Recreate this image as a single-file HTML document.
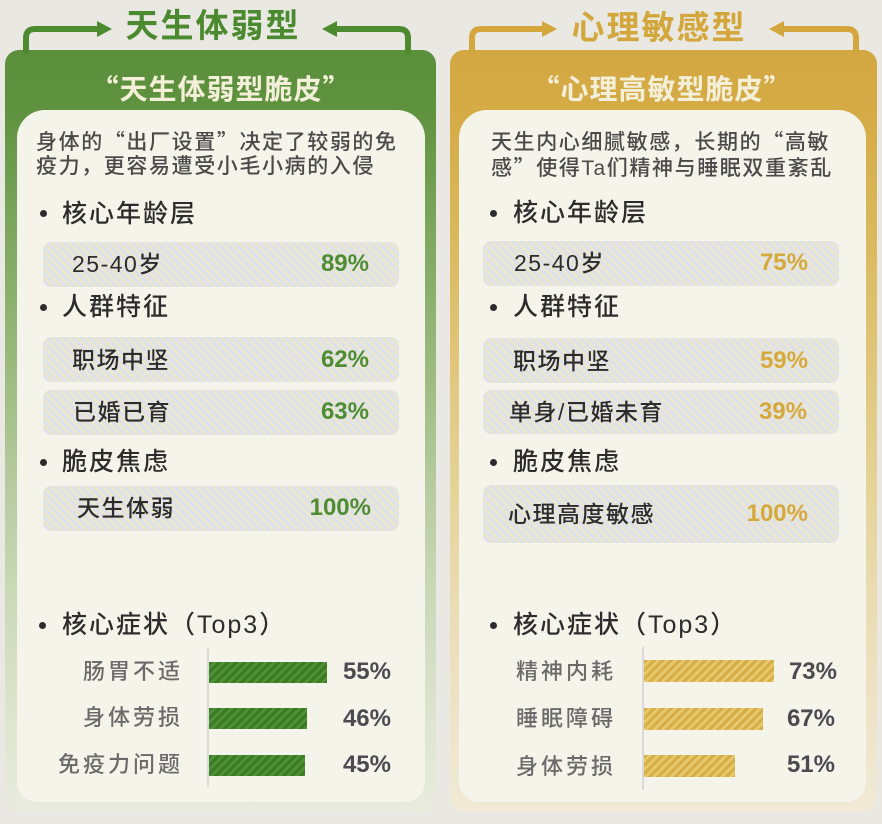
<!DOCTYPE html>
<html><head><meta charset="utf-8">
<style>
*{margin:0;padding:0;box-sizing:border-box}
html,body{width:882px;height:824px;overflow:hidden}
body{background:#e9e8e3;font-family:"Liberation Sans","Noto Sans CJK SC",sans-serif;position:relative}
.a{position:absolute;white-space:nowrap}
.q{font-family:"Noto Sans CJK SC",sans-serif;font-feature-settings:"fwid" 1}
.outer{position:absolute;top:50px;height:762px;border-radius:14px}
.og{left:5px;width:431px;background:linear-gradient(to bottom,#5b8f3c 0%,#5f923f 8%,#7aa55c 22%,#8db06f 33%,#a3bf87 46%,#b9cda3 59%,#cbd9b8 72%,#e0e6d2 90%,#e9ebdf 100%)}
.oy{left:450px;width:427px;background:linear-gradient(to bottom,#d3a842 0%,#d5ab46 8%,#d9b758 22%,#ddc06c 33%,#e1ca84 46%,#e6d49c 59%,#eadcb2 72%,#eee6cb 90%,#f0ead6 100%)}
.inner{position:absolute;top:110px;height:692px;background:#f5f4eb;border-radius:28px 28px 20px 20px}
.title{font-size:33px;font-weight:700;letter-spacing:2px;height:40px;line-height:40px;text-align:center;width:300px}
.sub{font-size:28px;font-weight:700;color:#f3efd8;letter-spacing:1px;height:36px;line-height:36px;text-align:center;width:360px}
.desc{font-size:21px;letter-spacing:1.6px;color:#4a4a4a;height:26px;line-height:26px;font-weight:500}
.h{font-size:25px;letter-spacing:2px;color:#2c2c2c;font-weight:500;height:34px;line-height:34px}
.dot{position:absolute;width:7px;height:7px;border-radius:50%;background:#2c2c2c}
.row{position:absolute;width:356px;height:45px;border-radius:8px;background:repeating-linear-gradient(45deg,#ebe6cf 0px,#ebe6cf 3px,#dce1ed 3px,#dce1ed 6px)}
.rt{font-size:23px;letter-spacing:1.5px;color:#2c2c2c;height:34px;line-height:34px;font-weight:500}
.pct{font-size:24px;font-weight:700;height:34px;line-height:34px;text-align:right;width:100px}
.g{color:#4e8d33}.y{color:#d5a93c}
.axis{position:absolute;width:2px;background:#dadad6}
.barg{position:absolute;height:21px;background:repeating-linear-gradient(135deg,#3d7a26 0px,#3d7a26 3px,#4f9135 3px,#4f9135 6px)}
.bary{position:absolute;height:22px;background:repeating-linear-gradient(135deg,#d6ad46 0px,#d6ad46 3px,#e7c86c 3px,#e7c86c 6px)}
.bl{font-size:22px;letter-spacing:3px;color:#6a6a6a;height:30px;line-height:30px;font-weight:500}
.bp{font-size:24px;font-weight:700;color:#4a4a50;height:30px;line-height:30px;text-align:right;width:100px}
</style></head>
<body>
<div class="outer og"></div>
<div class="outer oy"></div>
<div class="inner" style="left:17px;width:408px"></div>
<div class="inner" style="left:459px;width:407px"></div>

<svg class="a" style="left:0;top:0" width="882" height="60" viewBox="0 0 882 60">
<g fill="none" stroke-width="6" stroke-linejoin="round">
<path d="M26 54 V38 Q26 29 35 29 H100" stroke="#4e8b30"/>
<path d="M408 54 V38 Q408 29 399 29 H334" stroke="#4e8b30"/>
<path d="M472 54 V38 Q472 29 481 29 H545" stroke="#d3a73c"/>
<path d="M856 54 V38 Q856 29 847 29 H782" stroke="#d3a73c"/>
</g>
<polygon points="97,21 112,29 97,37" fill="#4e8b30"/>
<polygon points="337,21 322,29 337,37" fill="#4e8b30"/>
<polygon points="542,21 557,29 542,37" fill="#d3a73c"/>
<polygon points="784,21 769,29 784,37" fill="#d3a73c"/>
</svg>

<div class="a title" style="left:63px;top:6px;color:#4b8a2e">天生体弱型</div>
<div class="a title" style="left:509px;top:8px;color:#d3a73c">心理敏感型</div>

<div class="a sub" style="left:41px;top:70px"><span class="q">“</span>天生体弱型脆皮<span class="q">”</span></div>
<div class="a sub" style="left:482px;top:70px"><span class="q">“</span>心理高敏型脆皮<span class="q">”</span></div>

<div class="a desc" style="left:36px;top:128px">身体的<span class="q">“</span>出厂设置<span class="q">”</span>决定了较弱的免</div>
<div class="a desc" style="left:36px;top:154px">疫力，更容易遭受小毛小病的入侵</div>
<div class="a desc" style="left:491px;top:128px">天生内心细腻敏感，长期的<span class="q">“</span>高敏</div>
<div class="a desc" style="left:491px;top:154px">感<span class="q">”</span>使得Ta们精神与睡眠双重紊乱</div>

<!-- left headings -->
<div class="dot" style="left:40px;top:210px"></div><div class="a h" style="left:62px;top:197px">核心年龄层</div>
<div class="dot" style="left:40px;top:304px"></div><div class="a h" style="left:62px;top:290px">人群特征</div>
<div class="dot" style="left:40px;top:459px"></div><div class="a h" style="left:62px;top:445px">脆皮焦虑</div>
<div class="dot" style="left:39px;top:622px"></div><div class="a h" style="left:62px;top:608px">核心症状（Top3）</div>

<!-- right headings -->
<div class="dot" style="left:490px;top:210px"></div><div class="a h" style="left:513px;top:196px">核心年龄层</div>
<div class="dot" style="left:490px;top:304px"></div><div class="a h" style="left:513px;top:290px">人群特征</div>
<div class="dot" style="left:490px;top:459px"></div><div class="a h" style="left:513px;top:445px">脆皮焦虑</div>
<div class="dot" style="left:490px;top:622px"></div><div class="a h" style="left:513px;top:608px">核心症状（Top3）</div>

<!-- left rows -->
<div class="row" style="left:43px;top:242px"></div>
<div class="a rt" style="left:72px;top:247px">25-40岁</div><div class="a pct g" style="left:269px;top:247px">89%</div>
<div class="row" style="left:43px;top:337px"></div>
<div class="a rt" style="left:72px;top:343px">职场中坚</div><div class="a pct g" style="left:269px;top:343px">62%</div>
<div class="row" style="left:43px;top:390px"></div>
<div class="a rt" style="left:73px;top:395px">已婚已育</div><div class="a pct g" style="left:269px;top:395px">63%</div>
<div class="row" style="left:43px;top:486px"></div>
<div class="a rt" style="left:77px;top:491px">天生体弱</div><div class="a pct g" style="left:271px;top:491px">100%</div>

<!-- right rows -->
<div class="row" style="left:483px;top:241px"></div>
<div class="a rt" style="left:514px;top:246px">25-40岁</div><div class="a pct y" style="left:708px;top:246px">75%</div>
<div class="row" style="left:483px;top:338px"></div>
<div class="a rt" style="left:513px;top:344px">职场中坚</div><div class="a pct y" style="left:708px;top:344px">59%</div>
<div class="row" style="left:483px;top:390px;height:44px"></div>
<div class="a rt" style="left:509px;top:395px">单身/已婚未育</div><div class="a pct y" style="left:707px;top:395px">39%</div>
<div class="row" style="left:483px;top:485px;height:58px"></div>
<div class="a rt" style="left:508px;top:497px">心理高度敏感</div><div class="a pct y" style="left:708px;top:497px">100%</div>

<!-- left bars -->
<div class="axis" style="left:207px;top:648px;height:139px"></div>
<div class="barg" style="left:209px;top:662px;width:118px"></div>
<div class="barg" style="left:209px;top:708px;width:98px"></div>
<div class="barg" style="left:209px;top:755px;width:96px"></div>
<div class="a bl" style="right:699px;top:657px">肠胃不适</div>
<div class="a bl" style="right:699px;top:703px">身体劳损</div>
<div class="a bl" style="right:699px;top:750px">免疫力问题</div>
<div class="a bp" style="left:291px;top:657px">55%</div>
<div class="a bp" style="left:291px;top:704px">46%</div>
<div class="a bp" style="left:291px;top:750px">45%</div>

<!-- right bars -->
<div class="axis" style="left:642px;top:647px;height:143px"></div>
<div class="bary" style="left:644px;top:660px;width:130px"></div>
<div class="bary" style="left:644px;top:708px;width:119px"></div>
<div class="bary" style="left:644px;top:755px;width:91px"></div>
<div class="a bl" style="left:516px;top:657px">精神内耗</div>
<div class="a bl" style="left:516px;top:704px">睡眠障碍</div>
<div class="a bl" style="left:516px;top:752px">身体劳损</div>
<div class="a bp" style="left:737px;top:657px">73%</div>
<div class="a bp" style="left:735px;top:704px">67%</div>
<div class="a bp" style="left:735px;top:750px">51%</div>
</body></html>
